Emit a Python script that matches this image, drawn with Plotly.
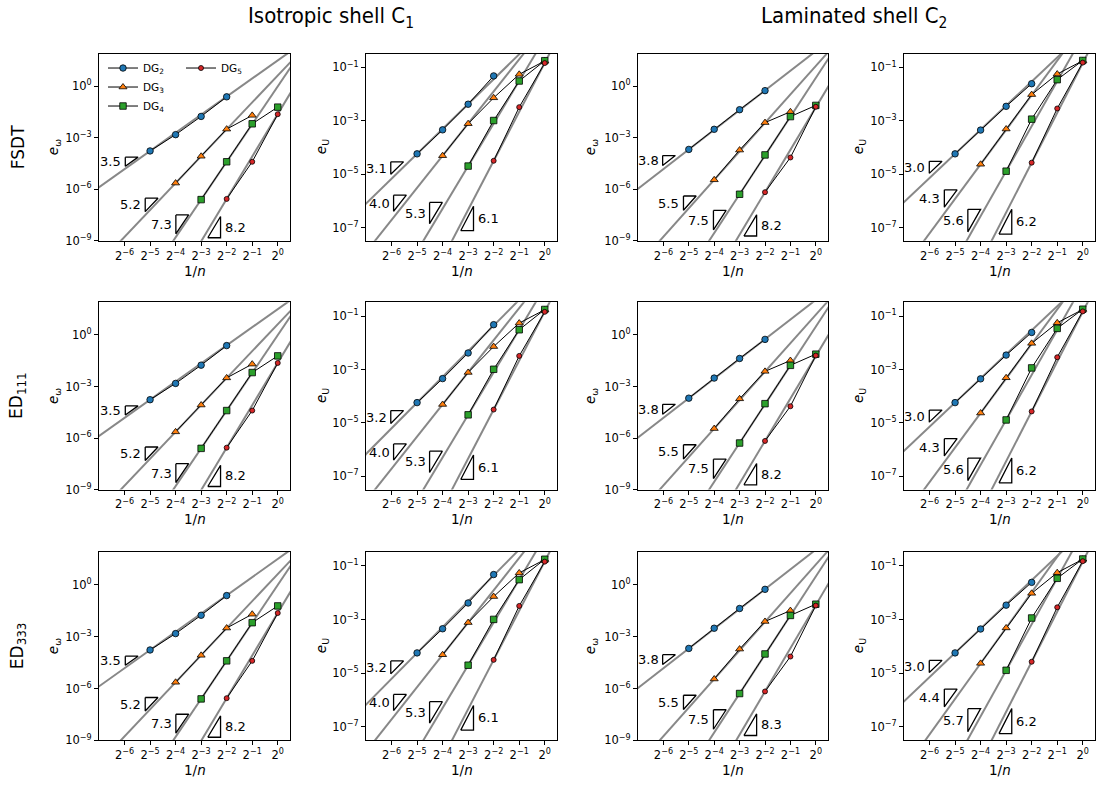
import numpy as np
import plotly.graph_objects as go

W, H = 1099, 785
LOG2 = np.log10(2.0)

# ---------------- text ----------------
col_titles = ["Isotropic shell C<sub>1</sub>", "Laminated shell C<sub>2</sub>"]
row_labels = ["FSDT", "ED<sub>111</sub>", "ED<sub>333</sub>"]
y_titles = ["<i>e</i><sub>ω</sub>", "<i>e</i><sub>U</sub>", "<i>e</i><sub>ω</sub>", "<i>e</i><sub>U</sub>"]
series_names = ["DG<sub>2</sub>", "DG<sub>3</sub>", "DG<sub>4</sub>", "DG<sub>5</sub>"]

# ---------------- mesh parameter 1/n ----------------
h_dg2 = [2**-5, 2**-4, 2**-3, 2**-2]
h_dg3 = [2**-4, 2**-3, 2**-2, 2**-1]
h_dg3_u = [2**-4, 2**-3, 2**-2, 2**-1, 2**0]
h_dg4 = [2**-3, 2**-2, 2**-1, 2**0]
h_dg5 = [2**-2, 2**-1, 2**0]

# ---------------- errors ----------------
iso_w_dg2 = [1.70e-4, 1.51e-3, 1.74e-2, 2.40e-1]
iso_w_dg3 = [2.29e-6, 8.32e-5, 3.16e-3, 2.00e-2]
iso_w_dg4 = [2.51e-7, 3.98e-5, 6.46e-3, 6.03e-2]
iso_w_dg5 = [2.75e-7, 3.98e-5, 2.34e-2]

iso_u_dg2 = [5.75e-5, 4.57e-4, 4.17e-3, 4.79e-2]
iso_u_dg3 = [4.90e-5, 7.76e-4, 7.24e-3, 5.50e-2, 1.74e-1]
iso_u_dg4 = [2.00e-5, 1.02e-3, 3.09e-2, 1.78e-1]
iso_u_dg5 = [3.16e-5, 3.24e-3, 1.45e-1]

lam_w_dg2 = [2.09e-4, 3.09e-3, 4.27e-2, 5.50e-1]
lam_w_dg3 = [3.55e-6, 1.91e-4, 7.59e-3, 3.24e-2]
lam_w_dg4 = [5.13e-7, 1.00e-4, 1.70e-2, 7.59e-2]
lam_w_dg5 = [6.76e-7, 7.08e-5, 6.31e-2]

lam_u_dg2 = [5.75e-5, 4.47e-4, 3.47e-3, 2.45e-2]
lam_u_dg3 = [2.34e-5, 4.90e-4, 9.55e-3, 5.62e-2, 1.78e-1]
lam_u_dg4 = [1.29e-5, 1.15e-3, 3.47e-2, 1.82e-1]
lam_u_dg5 = [2.69e-5, 2.88e-3, 1.51e-1]

# convergence rates shown next to the slope triangles (row: FSDT, ED111, ED333)
rates_fsdt = [[3.5, 5.2, 7.3, 8.2], [3.1, 4.0, 5.3, 6.1], [3.8, 5.5, 7.5, 8.2], [3.0, 4.3, 5.6, 6.2]]
rates_ed111 = [[3.5, 5.2, 7.3, 8.2], [3.2, 4.0, 5.3, 6.1], [3.8, 5.5, 7.5, 8.2], [3.0, 4.3, 5.6, 6.2]]
rates_ed333 = [[3.5, 5.2, 7.3, 8.2], [3.2, 4.0, 5.3, 6.1], [3.8, 5.5, 7.5, 8.3], [3.0, 4.4, 5.7, 6.2]]
row_rates = [rates_fsdt, rates_ed111, rates_ed333]

col_data = [
    [(h_dg2, iso_w_dg2), (h_dg3, iso_w_dg3), (h_dg4, iso_w_dg4), (h_dg5, iso_w_dg5)],
    [(h_dg2, iso_u_dg2), (h_dg3_u, iso_u_dg3), (h_dg4, iso_u_dg4), (h_dg5, iso_u_dg5)],
    [(h_dg2, lam_w_dg2), (h_dg3, lam_w_dg3), (h_dg4, lam_w_dg4), (h_dg5, lam_w_dg5)],
    [(h_dg2, lam_u_dg2), (h_dg3_u, lam_u_dg3), (h_dg4, lam_u_dg4), (h_dg5, lam_u_dg5)],
]

# ---------------- layout / style ----------------
colors = ["#1f77b4", "#ff7f0e", "#2ca02c", "#d62728"]
symbols = ["circle", "triangle-up", "square", "circle"]
msizes = [6.5, 7, 6.5, 5]

# slope-triangle anchors per column: (log2 of left edge, log10 of corner)
tri_anchor = [
    [(-5.97, -4.13), (-5.19, -6.52), (-3.99, -7.49), (-2.74, -8.82)],
    [(-6.03, -4.54), (-5.92, -5.79), (-4.51, -6.06), (-3.29, -7.12)],
    [(-6.03, -4.04), (-5.21, -6.39), (-4.03, -7.23), (-2.83, -8.72)],
    [(-6.01, -4.52), (-5.42, -5.59), (-4.50, -6.32), (-3.28, -7.25)],
]

col_px = [(99, 290), (366, 557), (638, 828), (904, 1095)]
row_px = [(54, 243), (305, 494), (557, 747)]
yrange_w = [-9.0, 1.9]
yrange_u = [-7.5, -0.48]
xrange_log2 = [-7.0, 0.48]
ytick_w = [1e0, 1e-3, 1e-6, 1e-9]
ytick_u = [1e-1, 1e-3, 1e-5, 1e-7]


def sup10(v):
    e = int(round(np.log10(v)))
    return "10<sup>" + (str(e) if e >= 0 else "−" + str(-e)) + "</sup>"


xtick_vals = [2.0**k for k in range(-6, 1)]
xtick_text = ["2<sup>" + (str(k) if k >= 0 else "−" + str(-k)) + "</sup>" for k in range(-6, 1)]

TICKFONT = dict(family="DejaVu Sans, sans-serif", size=11.5, color="black")
fig = go.Figure()
layout = dict(
    width=W, height=H, margin=dict(l=0, r=0, t=0, b=0),
    paper_bgcolor="white", plot_bgcolor="white", showlegend=True,
    font=dict(family="DejaVu Sans, sans-serif", color="black"),
)
annotations = []

for r in range(3):
    for c in range(4):
        k = r * 4 + c
        sx = "" if k == 0 else str(k + 1)
        xa, ya = "x" + sx, "y" + sx
        x0p, x1p = col_px[c]
        y0p, y1p = row_px[r]
        is_w = c in (0, 2)
        yr = yrange_w if is_w else yrange_u
        yt = ytick_w if is_w else ytick_u
        axcommon = dict(showline=True, linecolor="black", linewidth=1, mirror=True,
                        ticks="outside", ticklen=4, tickwidth=1, tickcolor="black",
                        showgrid=False, zeroline=False, tickfont=TICKFONT, type="log")
        layout["xaxis" + sx] = dict(axcommon, domain=[x0p / W, x1p / W], anchor=ya,
                                    range=[xrange_log2[0] * LOG2, xrange_log2[1] * LOG2],
                                    tickvals=xtick_vals, ticktext=xtick_text)
        layout["yaxis" + sx] = dict(axcommon, domain=[1 - y1p / H, 1 - y0p / H], anchor=xa,
                                    range=yr, tickvals=yt, ticktext=[sup10(v) for v in yt])
        rates = row_rates[r][c]
        # reference lines (slope = reported rate, through the finest-mesh point)
        for s in range(4):
            h, e = col_data[c][s]
            lh0 = np.log2(h[0])
            le0 = np.log10(e[0])
            slope = rates[s] * LOG2
            xs = np.array([-8.0, 1.5])
            ys = le0 + slope * (xs - lh0)
            fig.add_trace(go.Scatter(x=2.0**xs, y=10.0**ys, mode="lines", xaxis=xa, yaxis=ya,
                                     line=dict(color="#888888", width=2), showlegend=False,
                                     hoverinfo="skip"))
        # data
        for s in range(4):
            h, e = col_data[c][s]
            fig.add_trace(go.Scatter(
                x=h, y=e, mode="lines+markers", xaxis=xa, yaxis=ya, name=series_names[s],
                line=dict(color="black", width=1),
                marker=dict(symbol=symbols[s], size=msizes[s], color=colors[s],
                            line=dict(color="black", width=0.8)),
                showlegend=(k == 0), legend=("legend2" if s == 3 else "legend"),
                cliponaxis=True))
        # slope triangles
        for s in range(4):
            tx, ty = tri_anchor[c][s]
            d = rates[s] * LOG2 * 0.5
            if s < 3:
                px = [tx, tx + 0.5, tx, tx]
                py = [ty, ty, ty - d, ty]
                lab_x, lab_anchor, shift = tx, "right", -2
                lab_y = ty - d / 2
            else:
                px = [tx, tx + 0.5, tx + 0.5, tx]
                py = [ty, ty, ty + d, ty]
                lab_x, lab_anchor, shift = tx + 0.5, "left", 2
                lab_y = ty + d / 2
            fig.add_trace(go.Scatter(x=[2.0**v for v in px], y=[10.0**v for v in py], mode="lines",
                                     xaxis=xa, yaxis=ya, line=dict(color="black", width=1.3),
                                     showlegend=False, hoverinfo="skip"))
            annotations.append(dict(x=lab_x * LOG2, y=lab_y, xref=xa, yref=ya, text=f"{rates[s]:.1f}",
                                    showarrow=False, xanchor=lab_anchor, yanchor="middle", xshift=shift,
                                    font=dict(family="DejaVu Sans, sans-serif", size=13, color="black")))
        # axis titles
        annotations.append(dict(x=(x0p + x1p) / 2 / W, y=1 - (y1p + 30) / H, xref="paper", yref="paper",
                                text="1/<i>n</i>", showarrow=False, xanchor="center", yanchor="middle",
                                font=dict(family="DejaVu Sans, sans-serif", size=13.5, color="black")))
        ytx = [54, 322, 591, 859][c]
        annotations.append(dict(x=ytx / W, y=1 - (y0p + y1p) / 2 / H, xref="paper", yref="paper",
                                text=y_titles[c], showarrow=False, textangle=-90, xanchor="center",
                                yanchor="middle",
                                font=dict(family="DejaVu Sans, sans-serif", size=13.5, color="black")))

for i, t in enumerate(col_titles):
    annotations.append(dict(x=[331, 854][i] / W, y=1 - 18 / H, xref="paper", yref="paper", text=t,
                            showarrow=False, xanchor="center", yanchor="middle",
                            font=dict(family="Liberation Sans Narrow, DejaVu Sans Condensed, Roboto, sans-serif",
                                      size=22, color="black")))
for r, t in enumerate(row_labels):
    y0p, y1p = row_px[r]
    annotations.append(dict(x=18 / W, y=1 - (y0p + y1p) / 2 / H, xref="paper", yref="paper", text=t,
                            showarrow=False, textangle=-90, xanchor="center", yanchor="middle",
                            font=dict(family="DejaVu Sans, sans-serif", size=17, color="black")))

legfont = dict(family="DejaVu Sans, sans-serif", size=10.5, color="black")
layout["legend"] = dict(x=103 / W, y=1 - 54 / H, xanchor="left", yanchor="top", bgcolor="rgba(0,0,0,0)",
                        font=legfont, tracegroupgap=0)
layout["legend2"] = dict(x=181 / W, y=1 - 54 / H, xanchor="left", yanchor="top", bgcolor="rgba(0,0,0,0)",
                         font=legfont)
layout["annotations"] = annotations
fig.update_layout(**layout)
fig.write_html("out.html")
